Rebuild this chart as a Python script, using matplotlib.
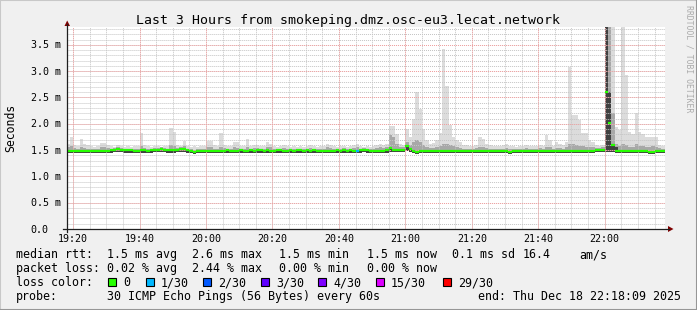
import numpy as np
import pandas as pd
import matplotlib
matplotlib.use("Agg")
import matplotlib.pyplot as plt
import matplotlib.dates as mdates
import matplotlib.transforms as mtrans
from matplotlib.patches import Rectangle, Polygon
from matplotlib.lines import Line2D

W, H = 697, 310
FONT = "DejaVu Sans Mono"

# one sample per minute, 19:18 .. 22:17
times = pd.date_range("2025-12-18 19:18", periods=180, freq="min")
t_start = pd.Timestamp("2025-12-18 19:18:09")
t_end = pd.Timestamp("2025-12-18 22:18:09")

# median rtt (ms)
med = [
    1.49, 1.49, 1.48, 1.48, 1.49, 1.49, 1.49, 1.48, 1.48, 1.49,
    1.49, 1.49, 1.49, 1.50, 1.51, 1.52, 1.51, 1.51, 1.50, 1.50,
    1.49, 1.49, 1.50, 1.50, 1.49, 1.50, 1.51, 1.51, 1.52, 1.51,
    1.50, 1.50, 1.50, 1.51, 1.52, 1.53, 1.50, 1.48, 1.47, 1.48,
    1.48, 1.48, 1.49, 1.48, 1.49, 1.49, 1.49, 1.49, 1.50, 1.49,
    1.49, 1.49, 1.50, 1.49, 1.49, 1.50, 1.49, 1.50, 1.50, 1.49,
    1.50, 1.49, 1.49, 1.50, 1.50, 1.49, 1.49, 1.50, 1.49, 1.50,
    1.50, 1.49, 1.50, 1.49, 1.50, 1.49, 1.49, 1.48, 1.49, 1.49,
    1.49, 1.50, 1.49, 1.50, 1.49, 1.50, 1.49, 1.49, 1.50, 1.51,
    1.50, 1.48, 1.48, 1.49, 1.49, 1.49, 1.50, 1.54, 1.50, 1.50,
    1.50, 1.51, 1.58, 1.52, 1.48, 1.47, 1.48, 1.48, 1.48, 1.48,
    1.49, 1.49, 1.49, 1.49, 1.49, 1.48, 1.48, 1.48, 1.48, 1.49,
    1.49, 1.48, 1.49, 1.49, 1.49, 1.49, 1.49, 1.49, 1.48, 1.49,
    1.49, 1.48, 1.48, 1.47, 1.48, 1.48, 1.49, 1.49, 1.49, 1.49,
    1.49, 1.49, 1.49, 1.49, 1.49, 1.48, 1.48, 1.49, 1.48, 1.48,
    1.49, 1.49, 1.49, 1.49, 1.49, 1.49, 1.49, 1.49, 1.49, 1.50,
    1.50, 1.50, 2.60, 2.02, 1.60, 1.49, 1.48, 1.48, 1.49, 1.48,
    1.48, 1.48, 1.48, 1.48, 1.48, 1.47, 1.47, 1.48, 1.48, 1.49,
]

# smoke: lowest ping, top of dark / medium / light smoke (ms)
smoke_lo = [
    1.45, 1.44, 1.44, 1.45, 1.44, 1.45, 1.45, 1.44, 1.45, 1.45,
    1.45, 1.45, 1.44, 1.45, 1.46, 1.46, 1.46, 1.45, 1.45, 1.45,
    1.44, 1.45, 1.45, 1.45, 1.44, 1.45, 1.46, 1.46, 1.46, 1.46,
    1.45, 1.45, 1.45, 1.46, 1.46, 1.47, 1.45, 1.44, 1.43, 1.44,
    1.44, 1.44, 1.44, 1.44, 1.45, 1.44, 1.45, 1.45, 1.45, 1.45,
    1.45, 1.44, 1.45, 1.45, 1.45, 1.45, 1.45, 1.45, 1.45, 1.44,
    1.45, 1.45, 1.45, 1.45, 1.45, 1.44, 1.45, 1.45, 1.45, 1.45,
    1.45, 1.45, 1.45, 1.45, 1.45, 1.44, 1.45, 1.44, 1.44, 1.45,
    1.45, 1.45, 1.45, 1.45, 1.45, 1.45, 1.45, 1.45, 1.45, 1.46,
    1.45, 1.44, 1.44, 1.45, 1.45, 1.45, 1.45, 1.47, 1.46, 1.46,
    1.46, 1.46, 1.48, 1.46, 1.44, 1.43, 1.44, 1.44, 1.44, 1.44,
    1.44, 1.45, 1.45, 1.45, 1.45, 1.44, 1.44, 1.44, 1.44, 1.45,
    1.45, 1.44, 1.45, 1.45, 1.45, 1.45, 1.45, 1.45, 1.44, 1.45,
    1.45, 1.44, 1.44, 1.43, 1.44, 1.44, 1.45, 1.45, 1.45, 1.45,
    1.45, 1.45, 1.45, 1.44, 1.45, 1.44, 1.44, 1.45, 1.44, 1.44,
    1.45, 1.45, 1.45, 1.45, 1.45, 1.45, 1.45, 1.45, 1.45, 1.46,
    1.46, 1.46, 1.47, 1.47, 1.47, 1.45, 1.44, 1.44, 1.45, 1.44,
    1.44, 1.44, 1.44, 1.44, 1.44, 1.43, 1.43, 1.44, 1.44, 1.45,
]

smoke_dark = [
    1.47, 1.47, 1.46, 1.46, 1.47, 1.47, 1.47, 1.46, 1.46, 1.47,
    1.47, 1.47, 1.47, 1.48, 1.49, 1.50, 1.49, 1.49, 1.48, 1.48,
    1.47, 1.47, 1.48, 1.48, 1.47, 1.48, 1.49, 1.49, 1.50, 1.49,
    1.48, 1.48, 1.48, 1.49, 1.50, 1.51, 1.48, 1.46, 1.45, 1.46,
    1.46, 1.46, 1.47, 1.46, 1.47, 1.47, 1.47, 1.47, 1.48, 1.47,
    1.47, 1.47, 1.48, 1.47, 1.47, 1.48, 1.47, 1.48, 1.48, 1.47,
    1.48, 1.47, 1.47, 1.48, 1.48, 1.47, 1.47, 1.48, 1.47, 1.48,
    1.48, 1.47, 1.48, 1.47, 1.48, 1.47, 1.47, 1.46, 1.47, 1.47,
    1.47, 1.48, 1.47, 1.48, 1.47, 1.48, 1.47, 1.47, 1.48, 1.49,
    1.48, 1.46, 1.46, 1.47, 1.47, 1.47, 1.48, 1.52, 1.48, 1.48,
    1.48, 1.49, 1.56, 1.50, 1.46, 1.45, 1.46, 1.46, 1.46, 1.46,
    1.47, 1.47, 1.47, 1.47, 1.47, 1.46, 1.46, 1.46, 1.46, 1.47,
    1.47, 1.46, 1.47, 1.47, 1.47, 1.47, 1.47, 1.47, 1.46, 1.47,
    1.47, 1.46, 1.46, 1.45, 1.46, 1.46, 1.47, 1.47, 1.47, 1.47,
    1.47, 1.47, 1.47, 1.47, 1.47, 1.46, 1.46, 1.47, 1.46, 1.46,
    1.47, 1.47, 1.47, 1.47, 1.47, 1.47, 1.47, 1.47, 1.47, 1.48,
    1.48, 1.48, 4.50, 2.60, 1.58, 1.55, 1.46, 1.46, 1.47, 1.46,
    1.46, 1.46, 1.46, 1.46, 1.46, 1.45, 1.45, 1.46, 1.46, 1.47,
]

smoke_mid = [
    1.55, 1.58, 1.54, 1.53, 1.56, 1.54, 1.53, 1.53, 1.52, 1.53,
    1.55, 1.55, 1.54, 1.53, 1.54, 1.55, 1.54, 1.53, 1.53, 1.53,
    1.52, 1.53, 1.58, 1.54, 1.53, 1.53, 1.54, 1.54, 1.55, 1.54,
    1.53, 1.60, 1.58, 1.54, 1.55, 1.57, 1.53, 1.52, 1.51, 1.52,
    1.52, 1.53, 1.56, 1.55, 1.53, 1.53, 1.56, 1.54, 1.53, 1.53,
    1.55, 1.54, 1.53, 1.53, 1.56, 1.53, 1.54, 1.54, 1.53, 1.53,
    1.56, 1.55, 1.53, 1.53, 1.53, 1.54, 1.53, 1.53, 1.53, 1.53,
    1.53, 1.53, 1.53, 1.54, 1.53, 1.53, 1.53, 1.53, 1.55, 1.54,
    1.53, 1.53, 1.53, 1.54, 1.53, 1.53, 1.54, 1.55, 1.53, 1.54,
    1.53, 1.52, 1.53, 1.54, 1.55, 1.54, 1.56, 1.79, 1.75, 1.62,
    1.55, 1.55, 1.66, 1.60, 1.65, 1.70, 1.65, 1.60, 1.56, 1.54,
    1.54, 1.56, 1.58, 1.62, 1.62, 1.60, 1.57, 1.55, 1.54, 1.53,
    1.53, 1.53, 1.53, 1.54, 1.56, 1.55, 1.54, 1.53, 1.52, 1.53,
    1.53, 1.53, 1.54, 1.52, 1.52, 1.52, 1.53, 1.53, 1.54, 1.53,
    1.53, 1.53, 1.54, 1.53, 1.56, 1.55, 1.53, 1.54, 1.54, 1.53,
    1.55, 1.62, 1.62, 1.60, 1.58, 1.57, 1.56, 1.55, 1.55, 1.54,
    1.54, 1.55, 4.50, 4.50, 2.20, 1.62, 1.58, 1.62, 1.60, 1.56,
    1.56, 1.62, 1.58, 1.58, 1.56, 1.56, 1.57, 1.56, 1.54, 1.53,
]

smoke_hi = [
    1.62, 1.75, 1.60, 1.58, 1.71, 1.62, 1.60, 1.57, 1.56, 1.58,
    1.63, 1.63, 1.60, 1.57, 1.56, 1.60, 1.58, 1.56, 1.57, 1.56,
    1.57, 1.58, 1.82, 1.60, 1.57, 1.56, 1.58, 1.57, 1.56, 1.57,
    1.58, 1.92, 1.85, 1.60, 1.57, 1.68, 1.57, 1.56, 1.57, 1.56,
    1.57, 1.58, 1.68, 1.68, 1.60, 1.58, 1.82, 1.60, 1.57, 1.58,
    1.65, 1.65, 1.58, 1.57, 1.72, 1.57, 1.60, 1.60, 1.58, 1.57,
    1.66, 1.62, 1.57, 1.56, 1.57, 1.59, 1.58, 1.56, 1.57, 1.56,
    1.57, 1.56, 1.57, 1.59, 1.57, 1.56, 1.57, 1.58, 1.61, 1.60,
    1.57, 1.56, 1.57, 1.58, 1.56, 1.57, 1.60, 1.61, 1.57, 1.56,
    1.57, 1.56, 1.58, 1.60, 1.61, 1.60, 1.62, 1.96, 1.96, 1.80,
    1.62, 1.60, 1.90, 1.75, 2.10, 2.60, 2.28, 1.90, 1.70, 1.62,
    1.63, 1.69, 1.82, 3.42, 2.72, 1.98, 1.75, 1.70, 1.65, 1.60,
    1.60, 1.58, 1.57, 1.60, 1.75, 1.72, 1.62, 1.60, 1.57, 1.58,
    1.57, 1.60, 1.62, 1.58, 1.57, 1.56, 1.57, 1.58, 1.60, 1.58,
    1.57, 1.58, 1.60, 1.57, 1.78, 1.70, 1.57, 1.65, 1.62, 1.60,
    1.66, 3.08, 2.17, 2.17, 2.07, 1.82, 1.82, 1.70, 1.66, 1.60,
    1.57, 1.60, 4.50, 4.50, 4.50, 1.94, 1.88, 4.00, 2.93, 1.85,
    1.80, 2.20, 1.85, 1.80, 1.75, 1.75, 1.74, 1.74, 1.60, 1.58,
]

# minutes with lost pings (out of 30)
loss_minutes = ["20:45"]
loss_counts = [1]

x_ticks = ["19:20", "19:40", "20:00", "20:20", "20:40", "21:00", "21:20", "21:40", "22:00"]
y_ticks = [0.0, 0.5, 1.0, 1.5, 2.0, 2.5, 3.0, 3.5]
y_labels = ["0.0", "0.5 m", "1.0 m", "1.5 m", "2.0 m", "2.5 m", "3.0 m", "3.5 m"]

loss_labels = ["0", "1/30", "2/30", "3/30", "4/30", "15/30", "29/30"]
loss_colors = ["#26ff00", "#00b8ff", "#0059ff", "#5e00ff", "#7e00ff", "#dd00ff", "#ff0000"]
loss_steps = [0, 1, 2, 3, 4, 15, 29]


def fx(px):
    return px / W


def fy(py):
    return 1 - py / H


fig = plt.figure(figsize=(W / 100, H / 100), dpi=100, facecolor="#f0f0f0")
ax = fig.add_axes([fx(67), fy(229), fx(665) - fx(67), fy(27) - fy(229)])
ax.set_facecolor("white")
for s in ax.spines.values():
    s.set_visible(False)

edges = mdates.date2num(list(times) + [times[-1] + pd.Timedelta(minutes=1)])

# smoke layers
ax.stairs(smoke_hi, edges, baseline=smoke_lo, fill=True, color="#dcdcdc", lw=0, zorder=1)
ax.stairs(smoke_mid, edges, baseline=smoke_lo, fill=True, color="#a8a8a8", lw=0, zorder=1.1)
ax.stairs(smoke_dark, edges, baseline=smoke_lo, fill=True, color="#404040", lw=0, zorder=1.2)

ax.set_xlim(mdates.date2num(t_start), mdates.date2num(t_end))
ax.set_ylim(0, 3.84)

# grid lines as thin dotted lines
day = "2025-12-18 "
major_x = [mdates.date2num(pd.Timestamp(day + t)) for t in x_ticks]
minor_x = mdates.date2num(pd.date_range(day + "19:20", day + "22:15", freq="5min"))
minor_y = np.arange(0.1, 3.84, 0.1)
dot = dict(lw=0.7, linestyle=(0, (1.03, 1.03)), zorder=2)
for x in minor_x:
    ax.axvline(x, color="#c4c4c4", **dot)
for y in minor_y:
    ax.axhline(y, color="#c4c4c4", **dot)
for x in major_x:
    ax.axvline(x, color="#f3a0a0", **dot)
for y in y_ticks[1:]:
    ax.axhline(y, color="#f3a0a0", **dot)
ax.set_xticks([])
ax.set_yticks([])

# median: horizontal pieces only, coloured by loss
line_col = [loss_colors[0]] * len(med)
for m, c in zip(loss_minutes, loss_counts):
    i = list(times).index(pd.Timestamp(day + m))
    line_col[i] = loss_colors[max(k for k, s in enumerate(loss_steps) if s <= c)]
ax.hlines(med, edges[:-1], edges[1:], colors=line_col, lw=1.6, zorder=3)

# axis labels
tx = mtrans.blended_transform_factory(ax.transData, fig.transFigure)
for t, lab in zip(major_x, x_ticks):
    ax.text(t, fy(242), lab, transform=tx, ha="center", va="baseline",
            family=FONT, fontsize=7.2, clip_on=False)
ty = mtrans.offset_copy(mtrans.blended_transform_factory(fig.transFigure, ax.transData),
                        fig=fig, y=-3.6, units="dots")
for v, lab in zip(y_ticks, y_labels):
    ax.text(fx(30.5), v, lab, transform=ty, ha="left", va="baseline",
            family=FONT, fontsize=7.2, clip_on=False)

# axes lines and arrows
axis_col = "#1f1f1f"
arrow_col = "#800000"
fig.add_artist(Line2D([fx(63), fx(669)], [fy(229), fy(229)], color=axis_col, lw=0.9))
fig.add_artist(Line2D([fx(67), fx(67)], [fy(232), fy(24)], color=axis_col, lw=0.9))
fig.add_artist(Polygon([[fx(64.5), fy(26)], [fx(70), fy(26)], [fx(67.2), fy(20.5)]],
                       closed=True, color=arrow_col, lw=0))
fig.add_artist(Polygon([[fx(668), fy(226)], [fx(668), fy(232)], [fx(673.5), fy(229)]],
                       closed=True, color=arrow_col, lw=0))

# titles
fig.text(fx(348.5), fy(24), "Last 3 Hours from smokeping.dmz.osc-eu3.lecat.network",
         ha="center", va="baseline", family=FONT, fontsize=9.5)
fig.text(fx(11), fy(128), "Seconds", rotation=90, ha="center", va="center",
         family=FONT, fontsize=8.3)
fig.text(fx(688.5), fy(5), "RRDTOOL / TOBI OETIKER", rotation=270, ha="center", va="top",
         family=FONT, fontsize=5.9, color="#ababab")

# legend
lg = dict(family=FONT, fontsize=8.4, va="baseline")
row1 = [(16, "median rtt:"), (107, "1.5 ms avg"), (192, "2.6 ms max"), (279, "1.5 ms min"),
        (367, "1.5 ms now"), (452, "0.1 ms sd"), (523, "16.4"), (579, "am/s")]
row2 = [(16, "packet loss:"), (107, "0.02 % avg"), (192, "2.44 % max"),
        (279, "0.00 % min"), (367, "0.00 % now")]
row4 = [(16, "probe:"), (107, "30 ICMP Echo Pings (56 Bytes) every 60s"),
        (478, "end: Thu Dec 18 22:18:09 2025")]
for x, s in row1:
    fig.text(fx(x), fy(258), s, **lg)
for x, s in row2:
    fig.text(fx(x), fy(272), s, **lg)
fig.text(fx(16), fy(286), "loss color:", **lg)
box_x = [108, 146, 203, 261, 318, 376, 443]
for bx, lab, col in zip(box_x, loss_labels, loss_colors):
    fig.add_artist(Rectangle((fx(bx), fy(286)), 8 / W, 8 / H, facecolor=col,
                             edgecolor="black", lw=0.8))
    fig.text(fx(bx + 15), fy(286), lab, **lg)
for x, s in row4:
    fig.text(fx(x), fy(300), s, **lg)

# 3d frame
fig.add_artist(Line2D([0, 0, 1], [0, 1, 1], color="#c8c8c8", lw=1.5))
fig.add_artist(Line2D([0, 1, 1], [0, 0, 1], color="#969696", lw=1.5))

fig.savefig("out.png", dpi=100, facecolor=fig.get_facecolor())
